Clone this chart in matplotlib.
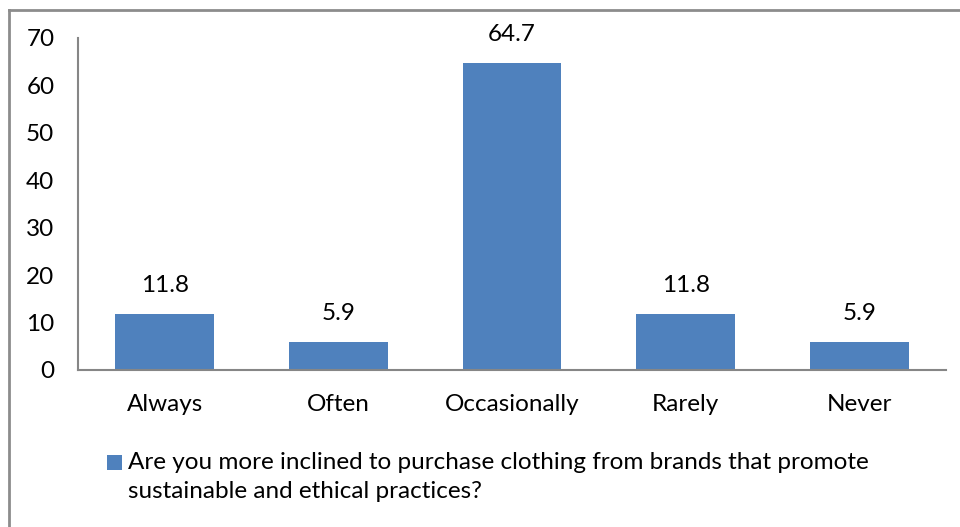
import matplotlib.pyplot as plt
from matplotlib.lines import Line2D
from matplotlib.patches import Rectangle

categories = ['Always', 'Often', 'Occasionally', 'Rarely', 'Never']
values = [11.8, 5.9, 64.7, 11.8, 5.9]
legend_label = ('Are you more inclined to purchase clothing from brands that promote\n'
                'sustainable and ethical practices?')

plt.rcParams['font.family'] = ['Lato', 'DejaVu Sans']

W, H = 960, 527
fig = plt.figure(figsize=(W / 100, H / 100), dpi=100)
ax = fig.add_axes([78 / W, 1 - 370 / H, (946 - 78) / W, (370 - 38) / H])

bar_color = '#4F81BD'
x = range(len(categories))
bars = ax.bar(x, values, width=0.57, color=bar_color)

for b, v in zip(bars, values):
    ax.text(b.get_x() + b.get_width() / 2, v + 3.8, f'{v}', ha='center', va='bottom',
            fontsize=17.5, color='black')

ax.set_xlim(-0.5, len(categories) - 0.5)
ax.set_ylim(0, 70)
ax.set_yticks(range(0, 71, 10))
ax.set_xticks(list(x))
ax.set_xticklabels(categories)
ax.tick_params(axis='both', length=0, labelsize=17.5)
ax.tick_params(axis='y', pad=17)
ax.tick_params(axis='x', pad=17)

for s in ['top', 'right']:
    ax.spines[s].set_visible(False)
for s in ['left', 'bottom']:
    ax.spines[s].set_color('#868686')
    ax.spines[s].set_linewidth(1.5)

# legend: square key next to the first line of the wrapped label
fig.add_artist(Rectangle((107 / W, 1 - 470 / H), 15 / W, 15 / H, facecolor=bar_color,
                         edgecolor='none', transform=fig.transFigure))
fig.text(128 / W, 1 - 452 / H, legend_label, ha='left', va='top', fontsize=17.5,
         linespacing=1.45)

# chart frame (top and left visible)
fig.add_artist(Line2D([9 / W, 9 / W], [0, 1 - 10 / H], color='#8c8c8c', lw=2,
                      transform=fig.transFigure))
fig.add_artist(Line2D([9 / W, 1], [1 - 10 / H, 1 - 10 / H], color='#8c8c8c', lw=2,
                      transform=fig.transFigure))

fig.savefig('out.png', dpi=100)
